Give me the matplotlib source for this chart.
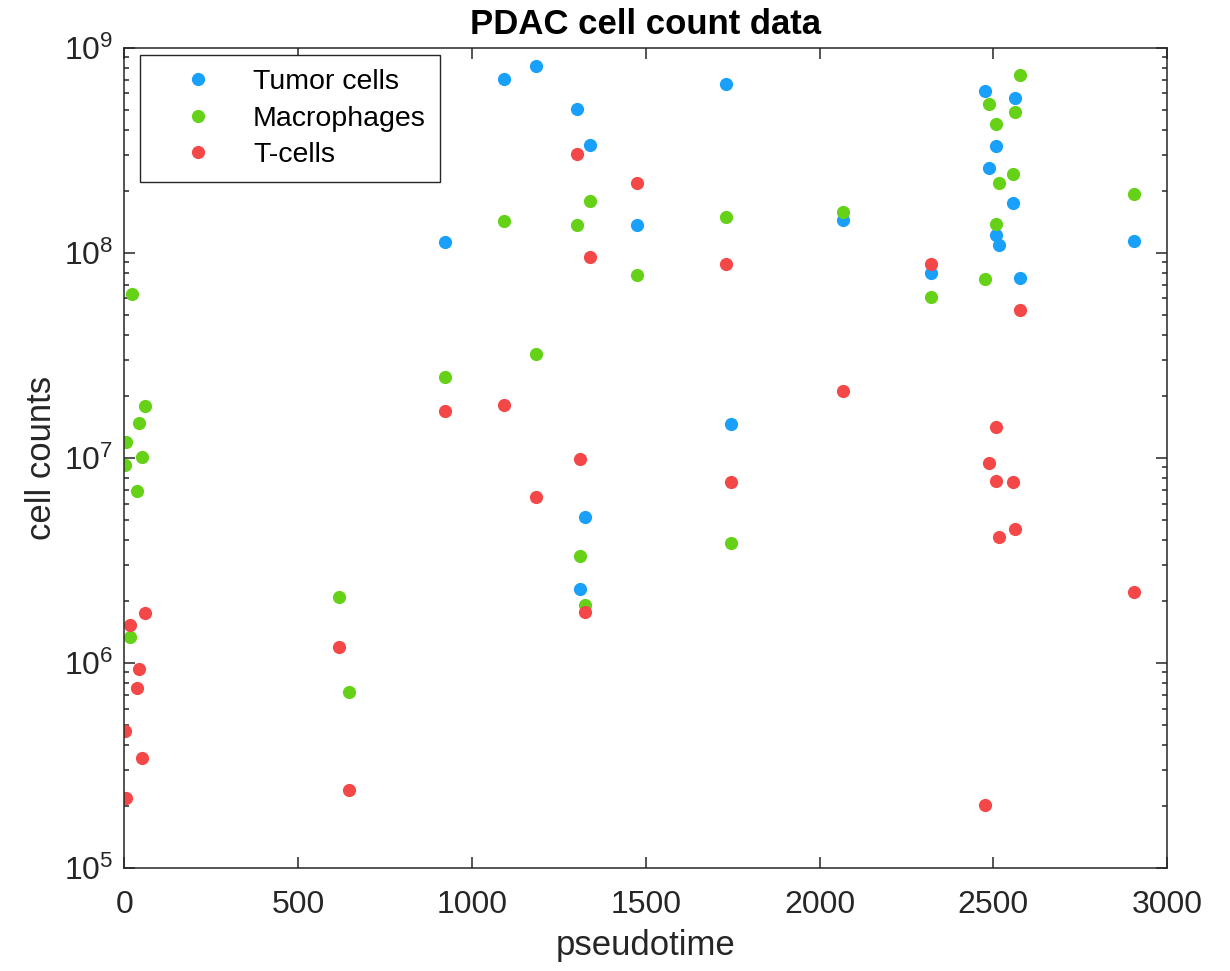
import numpy as np
import matplotlib.pyplot as plt

#### Data ####
nan = np.nan
pseudotime = [2, 5, 15, 23, 36, 43, 49, 58, 618, 647, 922, 1091, 1184, 1301, 1311,
              1325, 1339, 1476, 1732, 1744, 2069, 2321, 2476, 2489, 2507, 2509,
              2516, 2557, 2563, 2578, 2905]
tumor = [nan, nan, nan, nan, nan, nan, nan, nan, nan, nan, 1.13e8, 7.06e8, 8.15e8,
         5.04e8, 2.29e6, 5.14e6, 3.35e8, 1.37e8, 6.67e8, 1.47e7, 1.45e8, 7.96e7,
         6.17e8, 2.59e8, 1.23e8, 3.33e8, 1.10e8, 1.75e8, 5.72e8, 7.53e7, 1.15e8]
macrophages = [9.2e6, 1.20e7, 1.34e6, 6.31e7, 6.87e6, 1.48e7, 1.01e7, 1.79e7, 2.09e6,
               7.22e5, 2.48e7, 1.43e8, 3.22e7, 1.37e8, 3.32e6, 1.93e6, 1.79e8, 7.83e7,
               1.50e8, 3.86e6, 1.59e8, 6.08e7, 7.47e7, 5.33e8, 1.38e8, 4.26e8, 2.19e8,
               2.42e8, 4.89e8, 7.39e8, 1.93e8]
tcells = [4.66e5, 2.19e5, 1.54e6, nan, 7.56e5, 9.39e5, 3.46e5, 1.75e6, 1.20e6, 2.41e5,
          1.69e7, 1.81e7, 6.47e6, 3.03e8, 9.86e6, 1.78e6, 9.6e7, 2.20e8, 8.87e7, 7.66e6,
          2.13e7, 8.84e7, 2.03e5, 9.42e6, 7.75e6, 1.41e7, 4.10e6, 7.63e6, 4.52e6,
          5.25e7, 2.23e6]

series = [("Tumor cells", tumor, "#18A0FB"),
          ("Macrophages", macrophages, "#65D217"),
          ("T-cells", tcells, "#F44848")]

#### Plot ####
plt.rcParams['font.family'] = ['Liberation Sans', 'DejaVu Sans']
plt.rcParams['mathtext.default'] = 'regular'

fig = plt.figure(figsize=(12.3, 9.71), dpi=100)
ax = fig.add_axes([0.1012, 0.106, 0.8476, 0.8446])

for name, vals, col in series:
    ax.plot(pseudotime, vals, 'o', color=col, markersize=9.5, markeredgewidth=0,
            label=name)

ax.set_yscale('log')
ax.set_xlim(0, 3000)
ax.set_ylim(1e5, 1e9)
ax.set_xticks(np.arange(0, 3001, 500))

ax.tick_params(which='both', direction='in', top=True, right=True,
               width=1.1, color='#262626', labelcolor='#262626', labelsize=23)
ax.tick_params(which='major', length=7.7)
ax.tick_params(which='minor', length=3.8)
ax.tick_params(axis='x', pad=16)
ax.tick_params(axis='y', pad=8)
for s in ax.spines.values():
    s.set_linewidth(1.1)
    s.set_color('#262626')

ax.set_xlabel('pseudotime', fontsize=25, color='#262626', labelpad=6)
ax.set_ylabel('cell counts', fontsize=25, color='#262626', labelpad=4)
ax.set_title('PDAC cell count data', fontsize=25, fontweight='bold', pad=10)

leg = ax.legend(loc='upper left', bbox_to_anchor=(0.0149, 0.9915), borderaxespad=0,
                fontsize=20.5, fancybox=False, framealpha=1, edgecolor='#262626',
                handlelength=3.07, handletextpad=0.4, borderpad=0.5,
                labelspacing=0.37)
leg.get_frame().set_linewidth(1.0)

fig.savefig('out.png', dpi=100)
